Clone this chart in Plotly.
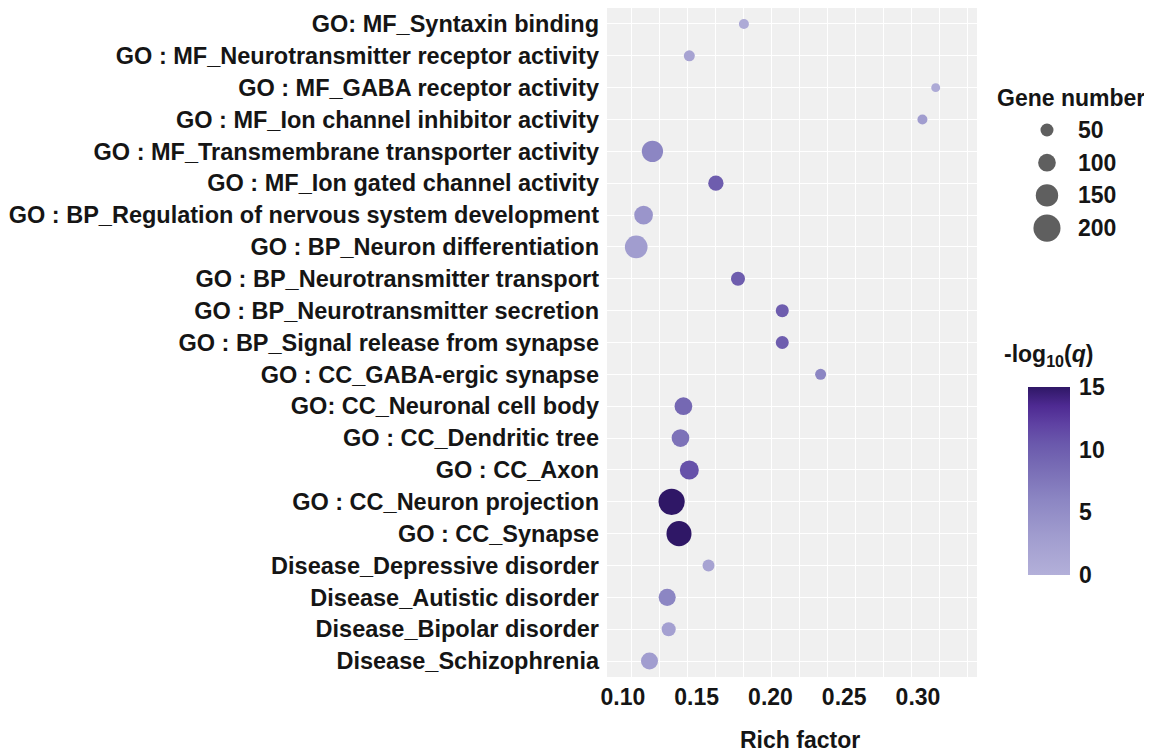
import plotly.graph_objects as go

terms = [
    "GO: MF_Syntaxin binding",
    "GO : MF_Neurotransmitter receptor activity",
    "GO : MF_GABA receptor activity",
    "GO : MF_Ion channel inhibitor activity",
    "GO : MF_Transmembrane transporter activity",
    "GO : MF_Ion gated channel activity",
    "GO : BP_Regulation of nervous system development",
    "GO : BP_Neuron differentiation",
    "GO : BP_Neurotransmitter transport",
    "GO : BP_Neurotransmitter secretion",
    "GO : BP_Signal release from synapse",
    "GO : CC_GABA-ergic synapse",
    "GO: CC_Neuronal cell body",
    "GO : CC_Dendritic tree",
    "GO : CC_Axon",
    "GO : CC_Neuron projection",
    "GO : CC_Synapse",
    "Disease_Depressive disorder",
    "Disease_Autistic disorder",
    "Disease_Bipolar disorder",
    "Disease_Schizophrenia",
]
rich_factor = [0.182, 0.145, 0.312, 0.303, 0.120, 0.163, 0.114, 0.109, 0.178, 0.208,
               0.208, 0.234, 0.141, 0.139, 0.145, 0.133, 0.138, 0.158, 0.130, 0.131, 0.118]
gene_number = [18, 29, 7, 18, 138, 74, 111, 153, 61, 50,
               50, 29, 100, 100, 114, 191, 178, 39, 93, 61, 93]
neg_log10_q = [1.0, 2.0, 1.0, 3.0, 6.0, 10.0, 4.0, 3.0, 10.0, 10.0,
               10.0, 6.0, 9.0, 8.0, 11.0, 15.0, 15.0, 2.0, 6.0, 2.5, 3.0]
size_legend_values = [50, 100, 150, 200]
x_tick_values = [0.10, 0.15, 0.20, 0.25, 0.30]
x_tick_labels = ["0.10", "0.15", "0.20", "0.25", "0.30"]
cbar_tick_values = [0, 5, 10, 15]


def marker_diameter(n):
    return 8.3 + 0.094 * n


FONT = "Liberation Sans, Arial, sans-serif"
TXT = "#151515"
FS = 23
PANEL_BG = "#F0F0F0"
colorscale = [
    [0.0, "#B3B0D9"],
    [0.2, "#A19DCF"],
    [0.4, "#8C86C3"],
    [0.6, "#7568B3"],
    [0.7, "#6A58AC"],
    [0.8, "#5F42A3"],
    [0.9, "#4E2A92"],
    [1.0, "#2F1766"],
]

fig = go.Figure()
fig.add_trace(go.Scatter(
    x=rich_factor, y=terms, mode="markers", showlegend=False,
    marker=dict(
        size=[marker_diameter(n) for n in gene_number],
        color=neg_log10_q, colorscale=colorscale, cmin=0, cmax=15,
        line=dict(width=0), opacity=1,
        colorbar=dict(
            x=0.7725, xanchor="left", xref="paper",
            y=0.293, yanchor="middle", len=0.281, lenmode="fraction",
            thickness=42, thicknessmode="pixels", xpad=0, ypad=0,
            outlinewidth=0, ticks="outside", ticklen=5, tickcolor="rgba(0,0,0,0)",
            tickvals=cbar_tick_values, ticktext=[str(v) for v in cbar_tick_values],
            tickfont=dict(family=FONT, size=FS, color=TXT, weight="bold"),
        ),
    ),
    hoverinfo="skip",
))

# size legend drawn on its own small axis
legend_rows = list(range(len(size_legend_values)))
fig.add_trace(go.Scatter(
    x=[0] * len(size_legend_values), y=legend_rows, mode="markers",
    xaxis="x2", yaxis="y2", showlegend=False, hoverinfo="skip", opacity=1,
    marker=dict(size=[marker_diameter(v) for v in size_legend_values],
                color="#5F5F5F", opacity=1, line=dict(width=0)),
))
for r, v in zip(legend_rows, size_legend_values):
    fig.add_annotation(x=1.45, y=r, xref="x2", yref="y2", text=f"<b>{v}</b>",
                       showarrow=False, xanchor="left", yanchor="middle",
                       font=dict(family=FONT, size=FS, color=TXT))

fig.add_annotation(
    x=0.8514, y=0.8655, xref="paper", yref="paper", showarrow=False,
    text="<b>Gene number</b>",
    font=dict(family=FONT, size=FS, color=TXT), xanchor="center", yanchor="middle",
)
fig.add_annotation(
    x=0.811, y=0.481, xref="paper", yref="paper", showarrow=False,
    text="<b>-log<sub>10</sub>(<i>q</i>)</b>",
    font=dict(family=FONT, size=FS, color=TXT), xanchor="center", yanchor="middle",
)
fig.add_annotation(
    x=0.354, y=-0.094, xref="paper", yref="paper", showarrow=False,
    text="<b>Rich factor</b>",
    font=dict(family=FONT, size=FS, color=TXT), xanchor="center", yanchor="middle",
)

# grey panel background only behind the main plot
fig.add_shape(type="rect", xref="x domain", yref="y domain", x0=0, x1=1, y0=0, y1=1,
              fillcolor=PANEL_BG, line=dict(width=0), layer="below")

# the page body adds an 8px offset; the figure is sized to fill the rest of the window
fig.update_layout(
    width=1144, height=746,
    margin=dict(l=599, r=0, t=0, b=77),
    paper_bgcolor="white", plot_bgcolor="white",
    font=dict(family=FONT, color=TXT),
    showlegend=False,
    xaxis=dict(
        domain=[0, 0.6789], automargin=False,
        range=[0.0892, 0.340],
        tickvals=x_tick_values, ticktext=x_tick_labels,
        showgrid=False, zeroline=False, ticks="", ticklabelstandoff=4,
        tickfont=dict(family=FONT, size=FS, color=TXT, weight="bold"),
        minor=dict(tick0=0.1061, dtick=0.01893, showgrid=True,
                   gridcolor="white", gridwidth=1.3, ticks=""),
    ),
    yaxis=dict(
        type="category", categoryorder="array", categoryarray=terms,
        range=[len(terms) - 0.5, -0.5], automargin=False,
        showgrid=True, gridcolor="white", gridwidth=1.3, zeroline=False,
        ticks="", ticklabelstandoff=7,
        tickfont=dict(family=FONT, size=23.5, color=TXT, weight="bold"),
    ),
    xaxis2=dict(
        domain=[0.7706, 0.9908], anchor="y2", range=[-1, 5],
        visible=False, fixedrange=True,
    ),
    yaxis2=dict(
        domain=[0.6466, 0.8421], anchor="x2", range=[3.5, -0.5],
        visible=False, fixedrange=True,
    ),
)

fig.write_html("out.html")
